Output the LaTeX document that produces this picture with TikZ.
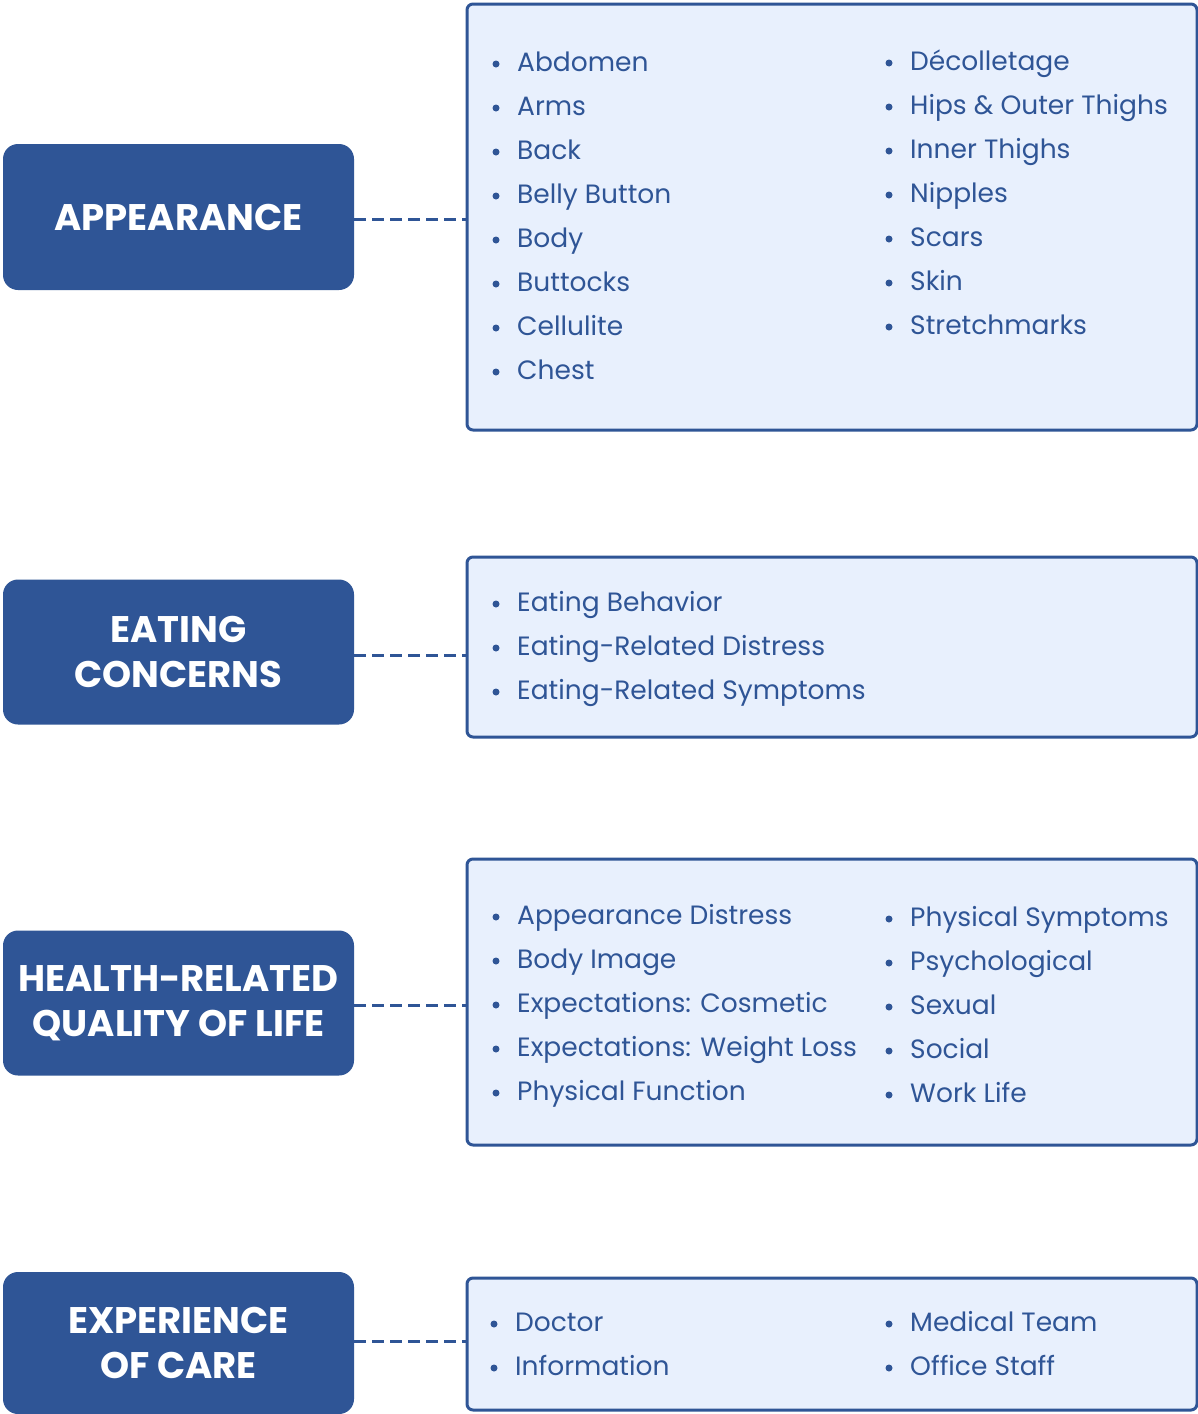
\documentclass[tikz,border=0pt]{standalone}
\usepackage{fontspec}
\setmainfont{Poppins}
\usetikzlibrary{positioning}

\definecolor{navy}{HTML}{2F5596}
\definecolor{paleblue}{HTML}{E8F0FD}

\tikzset{
  topic/.style={draw=none, fill=navy, rounded corners=15pt, text=white,
    font=\fontsize{37}{45}\selectfont\bfseries, align=center,
    minimum width=351pt, inner sep=0pt},
  listbox/.style={draw=navy, line width=3pt, fill=paleblue, rounded corners=6pt,
    minimum width=730pt, inner sep=0pt},
  item/.style={anchor=base west, text=navy, inner sep=0pt,
    font=\fontsize{26.5}{30}\selectfont},
  link/.style={navy, line width=3pt, dash pattern=on 12pt off 6pt},
}

\begin{document}
\begin{tikzpicture}[x=1pt, y=-1pt]
\useasboundingbox (0,0) rectangle (1198,1414);
\fill[white] (0,0) rectangle (1198,1414);

% topics
\node[topic, minimum height=146pt] (appear) at (178.5,217) {APPEARANCE};
\node[topic, minimum height=145pt] (eating) at (178.5,652) {EATING\\CONCERNS};
\node[topic, minimum height=145pt] (hrql) at (178.5,1003) {HEALTH-RELATED\\QUALITY OF LIFE};
\node[topic, minimum height=142pt] (care) at (178.5,1343) {EXPERIENCE\\OF CARE};

% boxes
\node[listbox, minimum height=426pt] (appearbox) at (832,217) {};
\node[listbox, minimum height=180pt] (eatingbox) at (832,647) {};
\node[listbox, minimum height=286pt] (hrqlbox) at (832,1002) {};
\node[listbox, minimum height=132pt] (carebox) at (832,1344) {};

% connectors
\draw[link] (appear.east |- 0,219) -- (appearbox.west |- 0,219);
\draw[link] (eating.east |- 0,655) -- (eatingbox.west |- 0,655);
\draw[link] (hrql.east |- 0,1005) -- (hrqlbox.west |- 0,1005);
\draw[link] (care.east |- 0,1341) -- (carebox.west |- 0,1341);

% items
\foreach \t [count=\i from 0] in {Abdomen, Arms, Back, Belly Button, Body, Buttocks, Cellulite, Chest} {
  \fill[navy] (496,64+44*\i) circle (3.5);
  \node[item] at (517,71+44*\i) {\t};
}
\foreach \t [count=\i from 0] in {Décolletage, Hips \& Outer Thighs, Inner Thighs, Nipples, Scars, Skin, Stretchmarks} {
  \fill[navy] (889,63+44*\i) circle (3.5);
  \node[item] at (910,70+44*\i) {\t};
}
\foreach \t [count=\i from 0] in {Eating Behavior, Eating-Related Distress, Eating-Related Symptoms} {
  \fill[navy] (496,604+44*\i) circle (3.5);
  \node[item] at (517,611+44*\i) {\t};
}
\foreach \t [count=\i from 0] in {Appearance Distress, Body Image, Expectations: Cosmetic, Expectations: Weight Loss, Physical Function} {
  \fill[navy] (496,917+44*\i) circle (3.5);
  \node[item] at (517,924+44*\i) {\t};
}
\foreach \t [count=\i from 0] in {Physical Symptoms, Psychological, Sexual, Social, Work Life} {
  \fill[navy] (889,919+44*\i) circle (3.5);
  \node[item] at (910,926+44*\i) {\t};
}
\foreach \t [count=\i from 0] in {Doctor, Information} {
  \fill[navy] (494,1324+44*\i) circle (3.5);
  \node[item] at (515,1331+44*\i) {\t};
}
\foreach \t [count=\i from 0] in {Medical Team, Office Staff} {
  \fill[navy] (889,1324+44*\i) circle (3.5);
  \node[item] at (910,1331+44*\i) {\t};
}
\end{tikzpicture}
\end{document}
